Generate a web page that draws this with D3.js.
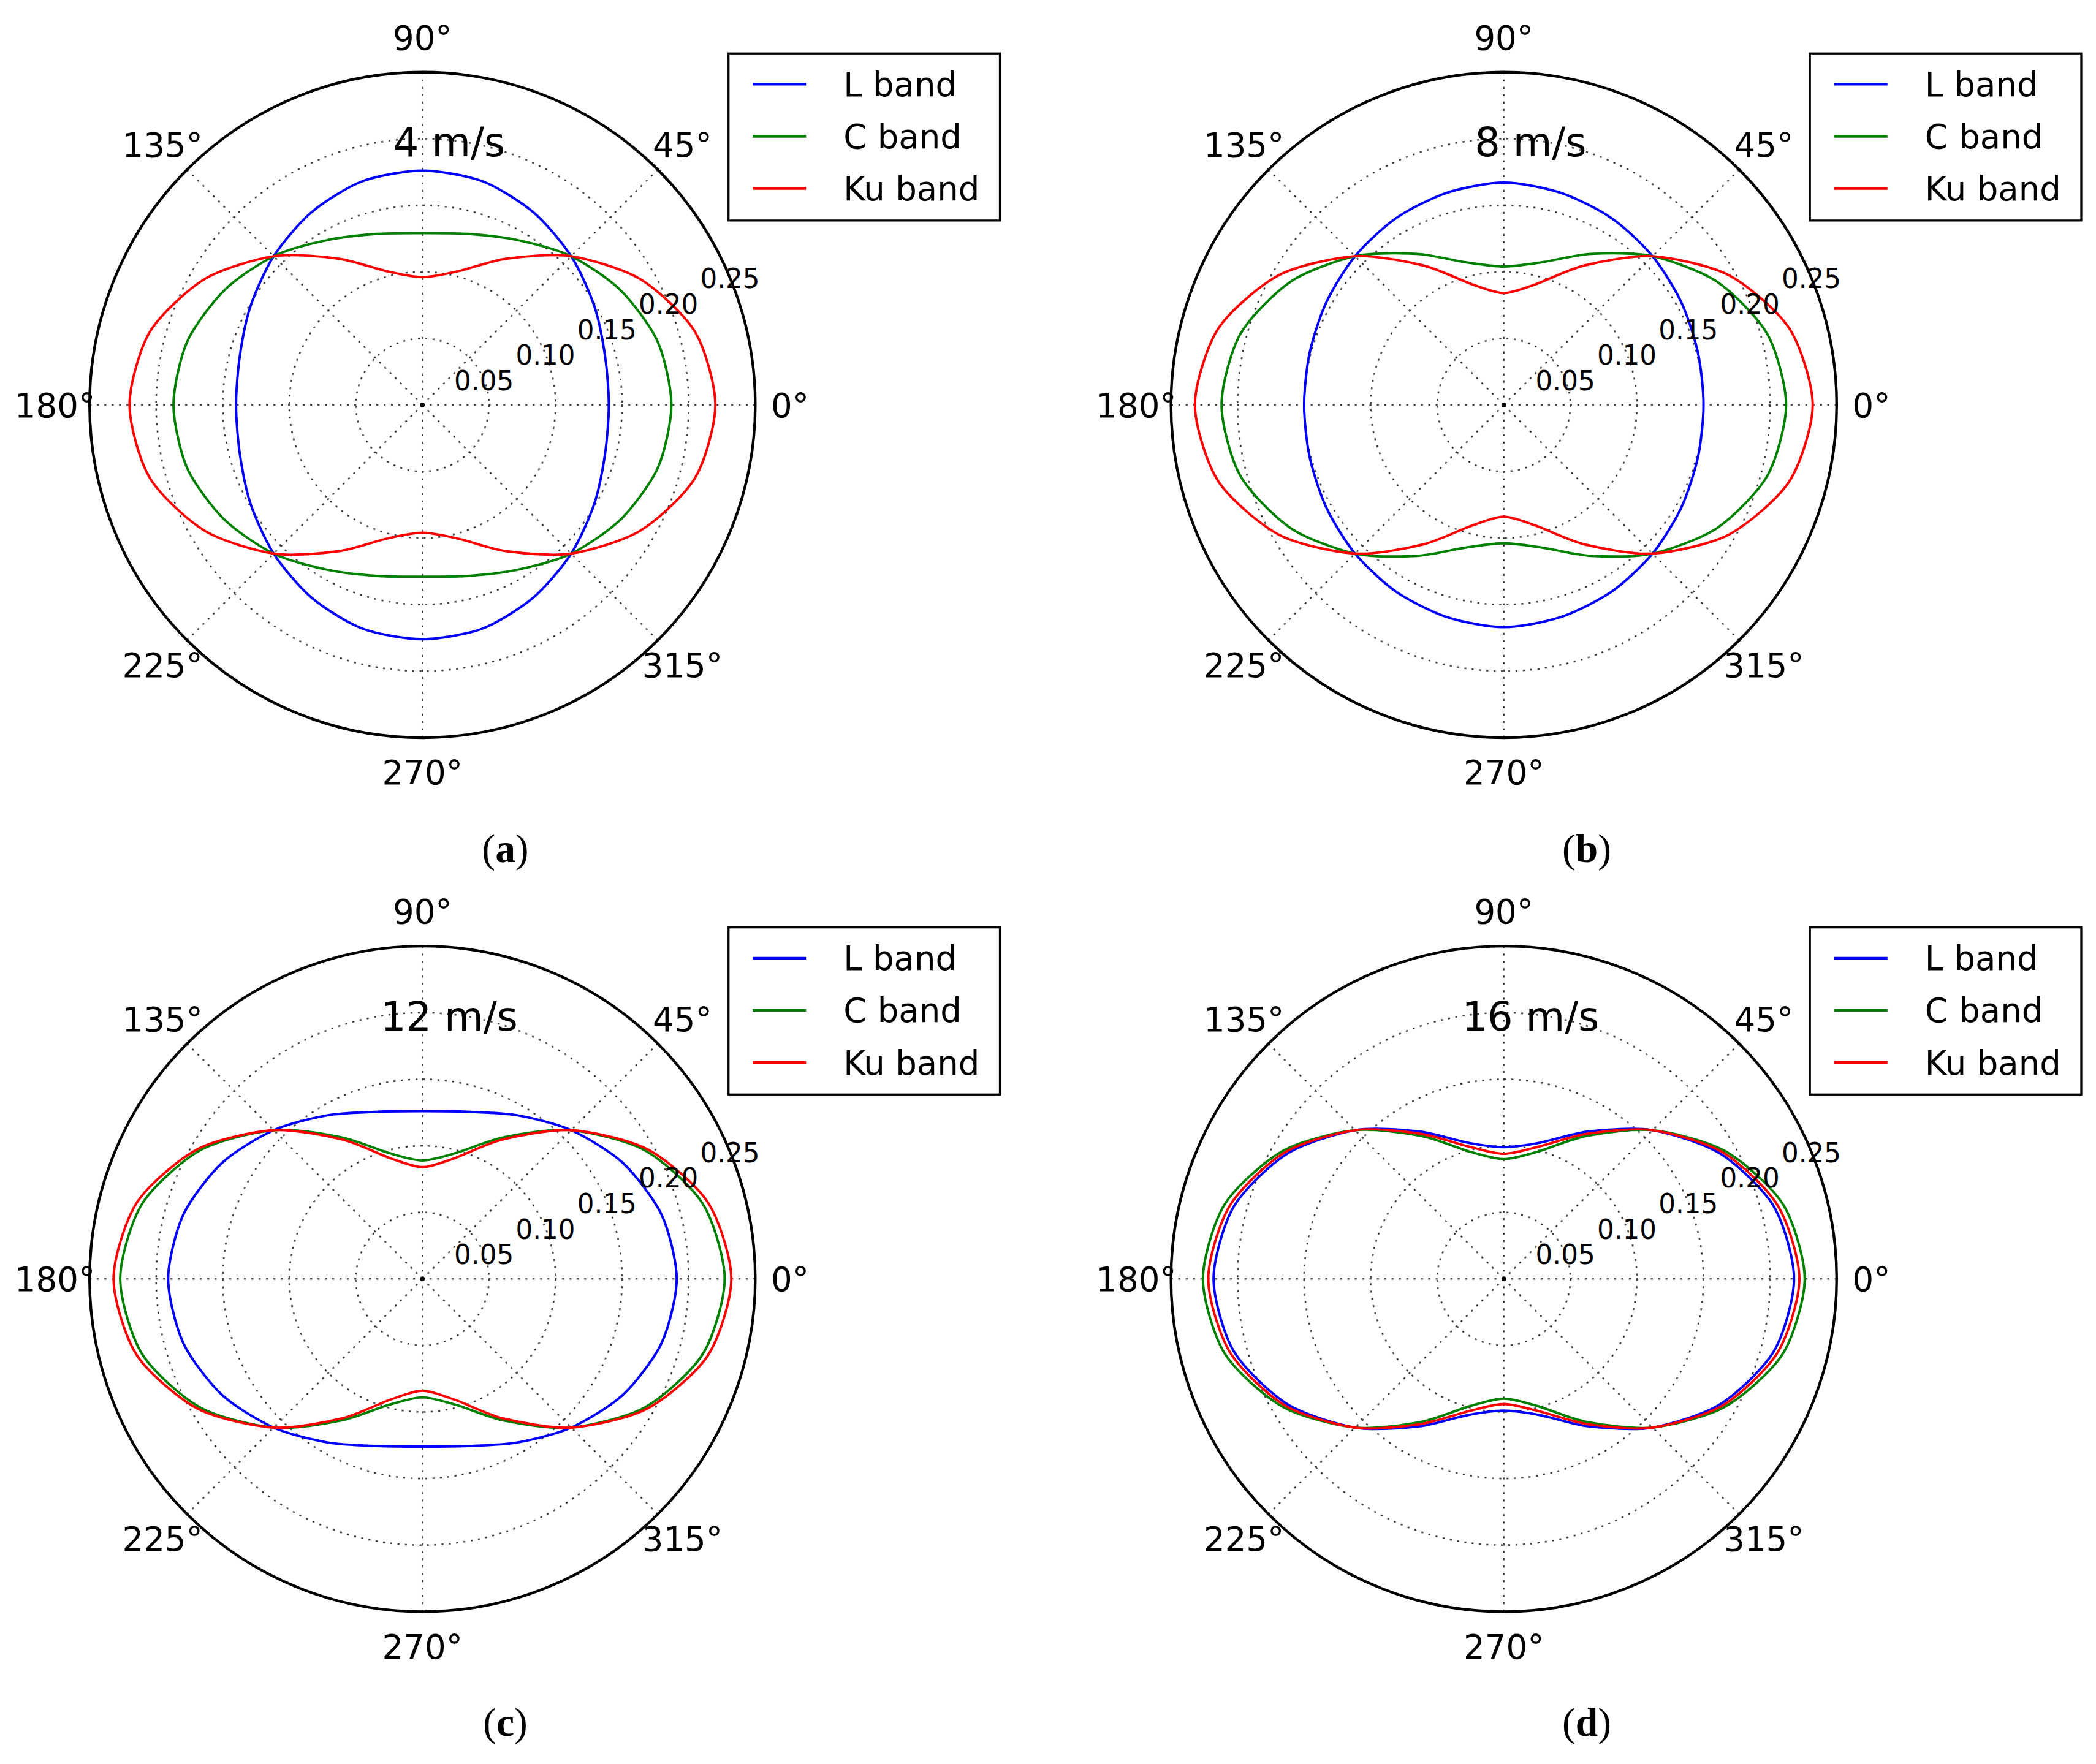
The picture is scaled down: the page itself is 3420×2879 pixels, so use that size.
<!DOCTYPE html>
<html><head><meta charset="utf-8">
<script src="https://cdn.jsdelivr.net/npm/d3@7"></script>
<style>body{margin:0;background:#fff}</style>
</head><body>
<svg id="chart" width="3420" height="2879" viewBox="0 0 1568 1320"></svg>
<script>
// quarter values at 0,15,...,90 deg (curves are symmetric about both axes)
const angles = [0, 15, 30, 45, 60, 75, 90];
const bands = ["L band", "C band", "Ku band"];
const colors = ["#0000ff", "#008000", "#ff0000"];
const speeds = ["4 m/s", "8 m/s", "12 m/s", "16 m/s"];
const letters = ["a", "b", "c", "d"];
const lBand = [
  [0.140, 0.142, 0.149, 0.158, 0.167, 0.174, 0.176],
  [0.150, 0.151, 0.154, 0.158, 0.162, 0.165, 0.167],
  [0.191, 0.186, 0.174, 0.158, 0.142, 0.130, 0.126],
  [0.218, 0.210, 0.188, 0.158, 0.128, 0.106, 0.099]
];
const cBand = [
  [0.187, 0.183, 0.172, 0.158, 0.143, 0.133, 0.129],
  [0.212, 0.205, 0.185, 0.158, 0.131, 0.111, 0.104],
  [0.227, 0.218, 0.193, 0.158, 0.123, 0.098, 0.089],
  [0.226, 0.217, 0.192, 0.158, 0.124, 0.099, 0.090]
];
const kuBand = [
  [0.220, 0.212, 0.189, 0.158, 0.127, 0.104, 0.096],
  [0.232, 0.222, 0.195, 0.158, 0.121, 0.094, 0.084],
  [0.232, 0.222, 0.195, 0.158, 0.121, 0.094, 0.084],
  [0.222, 0.213, 0.190, 0.158, 0.126, 0.103, 0.094]
];
const rTicks = [0.05, 0.10, 0.15, 0.20, 0.25];
const aTicks = [0, 45, 90, 135, 180, 225, 270, 315];

const svg = d3.select("#chart");
const R = 249;
const r = d3.scaleLinear().domain([0, 0.25]).range([0, R]);
const centers = [[316, 303], [1125, 303], [316, 957], [1125, 957]];
const font = "DejaVu Sans, sans-serif";

function fullCircle(q) {
  // expand quarter 0..90 to full 0..360 using symmetry
  const pts = [];
  for (let k = 0; k < 24; k++) {
    const a = k * 15, m = a % 180, f = m <= 90 ? m : 180 - m;
    pts.push([a, q[angles.indexOf(f)]]);
  }
  return pts;
}
const toXY = d => {
  const t = d[0] * Math.PI / 180;
  return [r(d[1]) * Math.cos(t), -r(d[1]) * Math.sin(t)];
};
const line = d3.line().x(d => toXY(d)[0]).y(d => toXY(d)[1]).curve(d3.curveCardinalClosed.tension(0.2));

centers.forEach((c, i) => {
  const g = svg.append("g").attr("transform", `translate(${c[0]},${c[1]})`);
  // grid
  g.selectAll(".ring").data(rTicks.slice(0, -1)).enter().append("circle")
    .attr("r", d => r(d)).attr("fill", "none").attr("stroke", "#444")
    .attr("stroke-width", 1.2).attr("stroke-dasharray", "1.5,4");
  g.selectAll(".spoke").data(aTicks).enter().append("line")
    .attr("x1", 0).attr("y1", 0)
    .attr("x2", d => R * Math.cos(d * Math.PI / 180))
    .attr("y2", d => -R * Math.sin(d * Math.PI / 180))
    .attr("stroke", "#444").attr("stroke-width", 1.2).attr("stroke-dasharray", "1.5,4");
  g.append("circle").attr("r", 1.8).attr("fill", "#000");
  // curves
  [lBand, cBand, kuBand].forEach((s, j) => {
    g.append("path").attr("d", line(fullCircle(s[i])))
      .attr("fill", "none").attr("stroke", colors[j]).attr("stroke-width", 1.8);
  });
  g.append("circle").attr("r", R).attr("fill", "none").attr("stroke", "#000").attr("stroke-width", 2);
  // angle labels
  g.selectAll(".al").data(aTicks).enter().append("text")
    .attr("x", d => (R + 26) * Math.cos(d * Math.PI / 180))
    .attr("y", d => -(R + 26) * Math.sin(d * Math.PI / 180) + 9)
    .attr("text-anchor", "middle").attr("font-family", font).attr("font-size", 25)
    .text(d => d + "°");
  // radial labels
  const ra = 22.5 * Math.PI / 180;
  g.selectAll(".rl").data(rTicks).enter().append("text")
    .attr("x", d => r(d) * Math.cos(ra))
    .attr("y", d => -r(d) * Math.sin(ra) + 8)
    .attr("text-anchor", "middle").attr("font-family", font).attr("font-size", 20)
    .text(d => d.toFixed(2));
  // title
  g.append("text").attr("x", 20).attr("y", -186).attr("text-anchor", "middle")
    .attr("font-family", font).attr("font-size", 30).text(speeds[i]);
  // legend
  const lg = g.append("g").attr("transform", "translate(229,-263)");
  lg.append("rect").attr("width", 203).attr("height", 125).attr("fill", "#fff")
    .attr("stroke", "#000").attr("stroke-width", 1.5);
  bands.forEach((b, j) => {
    lg.append("line").attr("x1", 18).attr("x2", 58).attr("y1", 23 + j * 39).attr("y2", 23 + j * 39)
      .attr("stroke", colors[j]).attr("stroke-width", 2);
    lg.append("text").attr("x", 86).attr("y", 32 + j * 39).attr("font-family", font)
      .attr("font-size", 25).text(b);
  });
  // panel letter
  const t = svg.append("text").attr("x", c[0] + 62).attr("y", c[1] + 342)
    .attr("text-anchor", "middle").attr("font-family", "Liberation Serif, serif").attr("font-size", 30);
  t.append("tspan").text("(");
  t.append("tspan").attr("font-weight", "bold").text(letters[i]);
  t.append("tspan").text(")");
});
</script>
</body></html>
